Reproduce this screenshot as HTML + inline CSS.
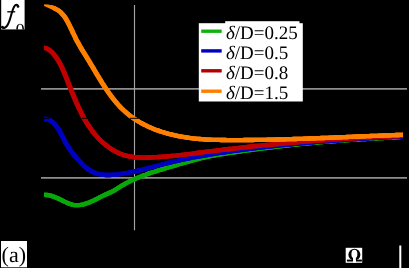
<!DOCTYPE html>
<html><head><meta charset="utf-8"><style>
html,body{margin:0;padding:0;background:#000;}
body{width:409px;height:268px;overflow:hidden;position:relative;font-family:"Liberation Serif",serif;color:#000;}
svg{position:absolute;left:0;top:0;}
.box{position:absolute;background:#fff;}
.t{position:absolute;white-space:nowrap;line-height:1;}
</style></head><body>
<svg width="409" height="268" viewBox="0 0 409 268" text-rendering="geometricPrecision" style="will-change:transform">
<rect x="0" y="0" width="409" height="268" fill="#000"/>
<g stroke="#8e8e8e" stroke-width="1.7" fill="none">
<line x1="41" y1="88.9" x2="407" y2="88.9"/>
<line x1="41" y1="177.9" x2="407" y2="177.9"/>
</g>
<line x1="134.5" y1="5" x2="134.5" y2="230.3" stroke="#a4a4a4" stroke-width="1.15"/>
<clipPath id="cp"><rect x="44" y="0" width="359" height="268"/></clipPath>
<g fill="none" stroke-width="4.3" stroke-linecap="butt" stroke-linejoin="round" clip-path="url(#cp)">
<g stroke="#08a808"><path d="M41.0,194.8L42.9,194.8L44.8,194.9L46.7,195.0L48.5,195.2L50.4,195.6L52.2,196.1L54.0,196.7L55.7,197.4L57.5,198.2L59.2,199.0L61.0,199.9L62.7,200.7L64.4,201.6L66.2,202.4L67.9,203.2L69.6,203.8L71.4,204.4L73.2,204.8L75.0,205.1L76.8,205.2L78.7,205.1L80.5,204.9L82.4,204.6L84.3,204.1L86.1,203.5L88.0,202.9L89.8,202.2L91.6,201.4L93.4,200.6L95.1,199.8L96.8,198.9L98.4,198.1L100.1,197.2L101.7,196.4L103.4,195.6L105.1,194.8L106.8,194.0L108.5,193.3L110.2,192.5L111.9,191.7L113.6,190.8L115.3,189.8L116.9,188.8L118.5,187.8L120.1,186.7L121.7,185.7L123.4,184.8L125.0,183.9L126.7,182.9L128.4,182.1L130.0,181.2L131.7,180.4L133.5,179.6L135.2,178.9L136.9,178.1L138.6,177.4L140.4,176.7L142.1,176.0L143.9,175.3L145.7,174.7L147.5,174.0L149.2,173.4L151.0,172.8L152.8,172.2L154.6,171.7L156.4,171.1L158.2,170.5L160.0,170.0L161.9,169.4L163.7,168.9L165.5,168.3L167.3,167.8L169.1,167.2L170.9,166.7L172.8,166.1L174.6,165.6L176.4,165.1L178.2,164.5L180.0,164.0L181.8,163.5L183.7,162.9L185.5,162.4L187.3,161.9L189.1,161.4L191.0,160.9L192.8,160.4L194.6,159.9L196.4,159.4L198.3,158.9L200.1,158.5L202.0,158.0L203.8,157.6L205.6,157.2L207.5,156.8L209.3,156.4L211.2,156.0L213.0,155.6L214.9,155.3L216.8,155.0L218.6,154.7L220.5,154.3L222.4,154.0L224.2,153.8L226.1,153.5L228.0,153.2L229.9,152.9L231.7,152.6L233.6,152.4L235.5,152.1L237.3,151.8L239.2,151.5L241.1,151.3L243.0,151.0L244.8,150.7L246.7,150.5L248.6,150.2L250.5,150.0L252.3,149.7L254.2,149.5L256.1,149.2L258.0,149.0L259.9,148.7L261.7,148.5L263.6,148.2L265.5,148.0L267.4,147.8L269.2,147.5L271.1,147.3L273.0,147.1L274.9,146.8L276.8,146.6L278.6,146.4L280.5,146.2L282.4,146.0L284.3,145.7L286.2,145.5L288.0,145.3L289.9,145.1L291.8,144.9L293.7,144.7L295.6,144.5L297.5,144.3L299.3,144.1L301.2,143.9L303.1,143.7L305.0,143.6L306.9,143.4L308.8,143.2L310.6,143.0L312.5,142.8L314.4,142.7L316.3,142.5L318.2,142.3L320.1,142.2L322.0,142.0L323.8,141.9L325.7,141.7L327.6,141.5L329.5,141.4L331.4,141.3L333.3,141.1L335.2,141.0L337.0,140.8L338.9,140.7L340.8,140.6L342.7,140.4L344.6,140.3L346.5,140.2L348.4,140.1L350.3,139.9L352.2,139.8L354.0,139.7L355.9,139.6L357.8,139.5L359.7,139.4L361.6,139.2L363.5,139.1L365.4,139.0L367.3,138.9L369.2,138.8L371.0,138.7L372.9,138.6L374.8,138.5L376.7,138.4L378.6,138.2L380.5,138.1L382.4,138.0L384.3,137.9L386.2,137.8L388.1,137.7L389.9,137.6L391.8,137.5L393.7,137.4L395.6,137.3L397.5,137.1L399.4,137.0L401.3,136.9L403.2,136.8L405.1,136.7L406.0,136.6"/><path transform="translate(-0.4,0)" d="M41.0,194.8L42.9,194.8L44.8,194.9L46.7,195.0L48.5,195.2L50.4,195.6L52.2,196.1L54.0,196.7L55.7,197.4L57.5,198.2L59.2,199.0L61.0,199.9L62.7,200.7L64.4,201.6L66.2,202.4L67.9,203.2L69.6,203.8L71.4,204.4L73.2,204.8L75.0,205.1L76.8,205.2L78.7,205.1L80.5,204.9L82.4,204.6L84.3,204.1L86.1,203.5L88.0,202.9L89.8,202.2L91.6,201.4L93.4,200.6L95.1,199.8L96.8,198.9L98.4,198.1L100.1,197.2L101.7,196.4L103.4,195.6L105.1,194.8L106.8,194.0L108.5,193.3L110.2,192.5L111.9,191.7L113.6,190.8L115.3,189.8L116.9,188.8L118.5,187.8L120.1,186.7L121.7,185.7L123.4,184.8L125.0,183.9L126.7,182.9L128.4,182.1L130.0,181.2L131.7,180.4L133.5,179.6L135.2,178.9L136.9,178.1L138.6,177.4L140.4,176.7L142.1,176.0L143.9,175.3L145.7,174.7L147.5,174.0L149.2,173.4L151.0,172.8L152.8,172.2L154.6,171.7L156.4,171.1L158.2,170.5L160.0,170.0L161.9,169.4L163.7,168.9L165.5,168.3L167.3,167.8L169.1,167.2L170.9,166.7L172.8,166.1L174.6,165.6L176.4,165.1L178.2,164.5L180.0,164.0L181.8,163.5L183.7,162.9L185.5,162.4L187.3,161.9L189.1,161.4L191.0,160.9L192.8,160.4L194.6,159.9L196.4,159.4L198.3,158.9L200.1,158.5L202.0,158.0L203.8,157.6L205.6,157.2L207.5,156.8L209.3,156.4L211.2,156.0L213.0,155.6L214.9,155.3L216.8,155.0L218.6,154.7L220.5,154.3L222.4,154.0L224.2,153.8L226.1,153.5L228.0,153.2L229.9,152.9L231.7,152.6L233.6,152.4L235.5,152.1L237.3,151.8L239.2,151.5L241.1,151.3L243.0,151.0L244.8,150.7L246.7,150.5L248.6,150.2L250.5,150.0L252.3,149.7L254.2,149.5L256.1,149.2L258.0,149.0L259.9,148.7L261.7,148.5L263.6,148.2L265.5,148.0L267.4,147.8L269.2,147.5L271.1,147.3L273.0,147.1L274.9,146.8L276.8,146.6L278.6,146.4L280.5,146.2L282.4,146.0L284.3,145.7L286.2,145.5L288.0,145.3L289.9,145.1L291.8,144.9L293.7,144.7L295.6,144.5L297.5,144.3L299.3,144.1L301.2,143.9L303.1,143.7L305.0,143.6L306.9,143.4L308.8,143.2L310.6,143.0L312.5,142.8L314.4,142.7L316.3,142.5L318.2,142.3L320.1,142.2L322.0,142.0L323.8,141.9L325.7,141.7L327.6,141.5L329.5,141.4L331.4,141.3L333.3,141.1L335.2,141.0L337.0,140.8L338.9,140.7L340.8,140.6L342.7,140.4L344.6,140.3L346.5,140.2L348.4,140.1L350.3,139.9L352.2,139.8L354.0,139.7L355.9,139.6L357.8,139.5L359.7,139.4L361.6,139.2L363.5,139.1L365.4,139.0L367.3,138.9L369.2,138.8L371.0,138.7L372.9,138.6L374.8,138.5L376.7,138.4L378.6,138.2L380.5,138.1L382.4,138.0L384.3,137.9L386.2,137.8L388.1,137.7L389.9,137.6L391.8,137.5L393.7,137.4L395.6,137.3L397.5,137.1L399.4,137.0L401.3,136.9L403.2,136.8L405.1,136.7L406.0,136.6"/><path transform="translate(0.4,0)" d="M41.0,194.8L42.9,194.8L44.8,194.9L46.7,195.0L48.5,195.2L50.4,195.6L52.2,196.1L54.0,196.7L55.7,197.4L57.5,198.2L59.2,199.0L61.0,199.9L62.7,200.7L64.4,201.6L66.2,202.4L67.9,203.2L69.6,203.8L71.4,204.4L73.2,204.8L75.0,205.1L76.8,205.2L78.7,205.1L80.5,204.9L82.4,204.6L84.3,204.1L86.1,203.5L88.0,202.9L89.8,202.2L91.6,201.4L93.4,200.6L95.1,199.8L96.8,198.9L98.4,198.1L100.1,197.2L101.7,196.4L103.4,195.6L105.1,194.8L106.8,194.0L108.5,193.3L110.2,192.5L111.9,191.7L113.6,190.8L115.3,189.8L116.9,188.8L118.5,187.8L120.1,186.7L121.7,185.7L123.4,184.8L125.0,183.9L126.7,182.9L128.4,182.1L130.0,181.2L131.7,180.4L133.5,179.6L135.2,178.9L136.9,178.1L138.6,177.4L140.4,176.7L142.1,176.0L143.9,175.3L145.7,174.7L147.5,174.0L149.2,173.4L151.0,172.8L152.8,172.2L154.6,171.7L156.4,171.1L158.2,170.5L160.0,170.0L161.9,169.4L163.7,168.9L165.5,168.3L167.3,167.8L169.1,167.2L170.9,166.7L172.8,166.1L174.6,165.6L176.4,165.1L178.2,164.5L180.0,164.0L181.8,163.5L183.7,162.9L185.5,162.4L187.3,161.9L189.1,161.4L191.0,160.9L192.8,160.4L194.6,159.9L196.4,159.4L198.3,158.9L200.1,158.5L202.0,158.0L203.8,157.6L205.6,157.2L207.5,156.8L209.3,156.4L211.2,156.0L213.0,155.6L214.9,155.3L216.8,155.0L218.6,154.7L220.5,154.3L222.4,154.0L224.2,153.8L226.1,153.5L228.0,153.2L229.9,152.9L231.7,152.6L233.6,152.4L235.5,152.1L237.3,151.8L239.2,151.5L241.1,151.3L243.0,151.0L244.8,150.7L246.7,150.5L248.6,150.2L250.5,150.0L252.3,149.7L254.2,149.5L256.1,149.2L258.0,149.0L259.9,148.7L261.7,148.5L263.6,148.2L265.5,148.0L267.4,147.8L269.2,147.5L271.1,147.3L273.0,147.1L274.9,146.8L276.8,146.6L278.6,146.4L280.5,146.2L282.4,146.0L284.3,145.7L286.2,145.5L288.0,145.3L289.9,145.1L291.8,144.9L293.7,144.7L295.6,144.5L297.5,144.3L299.3,144.1L301.2,143.9L303.1,143.7L305.0,143.6L306.9,143.4L308.8,143.2L310.6,143.0L312.5,142.8L314.4,142.7L316.3,142.5L318.2,142.3L320.1,142.2L322.0,142.0L323.8,141.9L325.7,141.7L327.6,141.5L329.5,141.4L331.4,141.3L333.3,141.1L335.2,141.0L337.0,140.8L338.9,140.7L340.8,140.6L342.7,140.4L344.6,140.3L346.5,140.2L348.4,140.1L350.3,139.9L352.2,139.8L354.0,139.7L355.9,139.6L357.8,139.5L359.7,139.4L361.6,139.2L363.5,139.1L365.4,139.0L367.3,138.9L369.2,138.8L371.0,138.7L372.9,138.6L374.8,138.5L376.7,138.4L378.6,138.2L380.5,138.1L382.4,138.0L384.3,137.9L386.2,137.8L388.1,137.7L389.9,137.6L391.8,137.5L393.7,137.4L395.6,137.3L397.5,137.1L399.4,137.0L401.3,136.9L403.2,136.8L405.1,136.7L406.0,136.6"/></g>
<g stroke="#0000c0"><path d="M41.0,118.9L43.0,118.8L45.0,118.8L47.0,119.1L48.8,119.7L50.5,120.5L52.1,121.7L53.6,123.0L54.9,124.4L56.2,126.0L57.4,127.6L58.5,129.2L59.5,131.0L60.5,132.7L61.4,134.5L62.3,136.3L63.2,138.1L64.1,139.8L65.0,141.6L66.0,143.3L67.0,145.0L68.0,146.6L69.0,148.2L70.1,149.8L71.2,151.4L72.4,152.9L73.6,154.4L74.8,155.9L76.1,157.4L77.4,158.9L78.8,160.4L80.2,161.9L81.6,163.4L83.1,164.9L84.6,166.4L86.2,167.7L87.8,169.0L89.5,170.2L91.2,171.2L92.9,172.0L94.7,172.8L96.5,173.4L98.3,173.9L100.2,174.3L102.1,174.6L104.0,174.9L105.9,175.0L107.9,175.0L109.8,175.0L111.8,174.9L113.7,174.8L115.7,174.6L117.7,174.4L119.6,174.1L121.6,173.8L123.5,173.5L125.5,173.2L127.4,172.9L129.4,172.5L131.3,172.1L133.3,171.7L135.2,171.3L137.1,170.9L139.1,170.4L141.0,170.0L142.9,169.5L144.8,169.0L146.7,168.5L148.7,168.0L150.6,167.5L152.5,167.0L154.4,166.5L156.3,166.0L158.2,165.5L160.1,165.0L162.0,164.5L164.0,164.0L165.9,163.5L167.8,163.1L169.7,162.6L171.6,162.1L173.6,161.7L175.5,161.2L177.4,160.8L179.3,160.3L181.3,159.9L183.2,159.5L185.1,159.1L187.1,158.7L189.0,158.3L190.9,157.9L192.9,157.5L194.8,157.2L196.8,156.8L198.7,156.5L200.6,156.1L202.6,155.8L204.5,155.4L206.5,155.1L208.4,154.8L210.4,154.4L212.3,154.1L214.3,153.8L216.2,153.5L218.2,153.2L220.1,152.9L222.1,152.6L224.0,152.3L226.0,152.0L228.0,151.7L229.9,151.5L231.9,151.2L233.8,150.9L235.8,150.6L237.7,150.4L239.7,150.1L241.7,149.9L243.6,149.6L245.6,149.3L247.5,149.1L249.5,148.8L251.5,148.6L253.4,148.4L255.4,148.1L257.3,147.9L259.3,147.6L261.3,147.4L263.2,147.2L265.2,147.0L267.1,146.7L269.1,146.5L271.1,146.3L273.0,146.1L275.0,145.9L277.0,145.7L278.9,145.4L280.9,145.2L282.9,145.0L284.8,144.8L286.8,144.6L288.8,144.4L290.7,144.3L292.7,144.1L294.7,143.9L296.6,143.7L298.6,143.5L300.6,143.3L302.5,143.1L304.5,143.0L306.5,142.8L308.4,142.6L310.4,142.4L312.4,142.3L314.3,142.1L316.3,141.9L318.3,141.8L320.2,141.6L322.2,141.5L324.2,141.3L326.1,141.2L328.1,141.0L330.1,140.9L332.1,140.7L334.0,140.6L336.0,140.4L338.0,140.3L339.9,140.1L341.9,140.0L343.9,139.8L345.9,139.7L347.8,139.6L349.8,139.4L351.8,139.3L353.7,139.2L355.7,139.1L357.7,138.9L359.7,138.8L361.6,138.7L363.6,138.6L365.6,138.4L367.5,138.3L369.5,138.2L371.5,138.1L373.5,138.0L375.4,137.8L377.4,137.7L379.4,137.6L381.3,137.5L383.3,137.4L385.3,137.3L387.3,137.2L389.2,137.1L391.2,137.0L393.2,136.9L395.2,136.8L397.1,136.7L399.1,136.6L401.1,136.5L403.0,136.4L405.0,136.3L406.0,136.2"/><path transform="translate(-0.4,0)" d="M41.0,118.9L43.0,118.8L45.0,118.8L47.0,119.1L48.8,119.7L50.5,120.5L52.1,121.7L53.6,123.0L54.9,124.4L56.2,126.0L57.4,127.6L58.5,129.2L59.5,131.0L60.5,132.7L61.4,134.5L62.3,136.3L63.2,138.1L64.1,139.8L65.0,141.6L66.0,143.3L67.0,145.0L68.0,146.6L69.0,148.2L70.1,149.8L71.2,151.4L72.4,152.9L73.6,154.4L74.8,155.9L76.1,157.4L77.4,158.9L78.8,160.4L80.2,161.9L81.6,163.4L83.1,164.9L84.6,166.4L86.2,167.7L87.8,169.0L89.5,170.2L91.2,171.2L92.9,172.0L94.7,172.8L96.5,173.4L98.3,173.9L100.2,174.3L102.1,174.6L104.0,174.9L105.9,175.0L107.9,175.0L109.8,175.0L111.8,174.9L113.7,174.8L115.7,174.6L117.7,174.4L119.6,174.1L121.6,173.8L123.5,173.5L125.5,173.2L127.4,172.9L129.4,172.5L131.3,172.1L133.3,171.7L135.2,171.3L137.1,170.9L139.1,170.4L141.0,170.0L142.9,169.5L144.8,169.0L146.7,168.5L148.7,168.0L150.6,167.5L152.5,167.0L154.4,166.5L156.3,166.0L158.2,165.5L160.1,165.0L162.0,164.5L164.0,164.0L165.9,163.5L167.8,163.1L169.7,162.6L171.6,162.1L173.6,161.7L175.5,161.2L177.4,160.8L179.3,160.3L181.3,159.9L183.2,159.5L185.1,159.1L187.1,158.7L189.0,158.3L190.9,157.9L192.9,157.5L194.8,157.2L196.8,156.8L198.7,156.5L200.6,156.1L202.6,155.8L204.5,155.4L206.5,155.1L208.4,154.8L210.4,154.4L212.3,154.1L214.3,153.8L216.2,153.5L218.2,153.2L220.1,152.9L222.1,152.6L224.0,152.3L226.0,152.0L228.0,151.7L229.9,151.5L231.9,151.2L233.8,150.9L235.8,150.6L237.7,150.4L239.7,150.1L241.7,149.9L243.6,149.6L245.6,149.3L247.5,149.1L249.5,148.8L251.5,148.6L253.4,148.4L255.4,148.1L257.3,147.9L259.3,147.6L261.3,147.4L263.2,147.2L265.2,147.0L267.1,146.7L269.1,146.5L271.1,146.3L273.0,146.1L275.0,145.9L277.0,145.7L278.9,145.4L280.9,145.2L282.9,145.0L284.8,144.8L286.8,144.6L288.8,144.4L290.7,144.3L292.7,144.1L294.7,143.9L296.6,143.7L298.6,143.5L300.6,143.3L302.5,143.1L304.5,143.0L306.5,142.8L308.4,142.6L310.4,142.4L312.4,142.3L314.3,142.1L316.3,141.9L318.3,141.8L320.2,141.6L322.2,141.5L324.2,141.3L326.1,141.2L328.1,141.0L330.1,140.9L332.1,140.7L334.0,140.6L336.0,140.4L338.0,140.3L339.9,140.1L341.9,140.0L343.9,139.8L345.9,139.7L347.8,139.6L349.8,139.4L351.8,139.3L353.7,139.2L355.7,139.1L357.7,138.9L359.7,138.8L361.6,138.7L363.6,138.6L365.6,138.4L367.5,138.3L369.5,138.2L371.5,138.1L373.5,138.0L375.4,137.8L377.4,137.7L379.4,137.6L381.3,137.5L383.3,137.4L385.3,137.3L387.3,137.2L389.2,137.1L391.2,137.0L393.2,136.9L395.2,136.8L397.1,136.7L399.1,136.6L401.1,136.5L403.0,136.4L405.0,136.3L406.0,136.2"/><path transform="translate(0.4,0)" d="M41.0,118.9L43.0,118.8L45.0,118.8L47.0,119.1L48.8,119.7L50.5,120.5L52.1,121.7L53.6,123.0L54.9,124.4L56.2,126.0L57.4,127.6L58.5,129.2L59.5,131.0L60.5,132.7L61.4,134.5L62.3,136.3L63.2,138.1L64.1,139.8L65.0,141.6L66.0,143.3L67.0,145.0L68.0,146.6L69.0,148.2L70.1,149.8L71.2,151.4L72.4,152.9L73.6,154.4L74.8,155.9L76.1,157.4L77.4,158.9L78.8,160.4L80.2,161.9L81.6,163.4L83.1,164.9L84.6,166.4L86.2,167.7L87.8,169.0L89.5,170.2L91.2,171.2L92.9,172.0L94.7,172.8L96.5,173.4L98.3,173.9L100.2,174.3L102.1,174.6L104.0,174.9L105.9,175.0L107.9,175.0L109.8,175.0L111.8,174.9L113.7,174.8L115.7,174.6L117.7,174.4L119.6,174.1L121.6,173.8L123.5,173.5L125.5,173.2L127.4,172.9L129.4,172.5L131.3,172.1L133.3,171.7L135.2,171.3L137.1,170.9L139.1,170.4L141.0,170.0L142.9,169.5L144.8,169.0L146.7,168.5L148.7,168.0L150.6,167.5L152.5,167.0L154.4,166.5L156.3,166.0L158.2,165.5L160.1,165.0L162.0,164.5L164.0,164.0L165.9,163.5L167.8,163.1L169.7,162.6L171.6,162.1L173.6,161.7L175.5,161.2L177.4,160.8L179.3,160.3L181.3,159.9L183.2,159.5L185.1,159.1L187.1,158.7L189.0,158.3L190.9,157.9L192.9,157.5L194.8,157.2L196.8,156.8L198.7,156.5L200.6,156.1L202.6,155.8L204.5,155.4L206.5,155.1L208.4,154.8L210.4,154.4L212.3,154.1L214.3,153.8L216.2,153.5L218.2,153.2L220.1,152.9L222.1,152.6L224.0,152.3L226.0,152.0L228.0,151.7L229.9,151.5L231.9,151.2L233.8,150.9L235.8,150.6L237.7,150.4L239.7,150.1L241.7,149.9L243.6,149.6L245.6,149.3L247.5,149.1L249.5,148.8L251.5,148.6L253.4,148.4L255.4,148.1L257.3,147.9L259.3,147.6L261.3,147.4L263.2,147.2L265.2,147.0L267.1,146.7L269.1,146.5L271.1,146.3L273.0,146.1L275.0,145.9L277.0,145.7L278.9,145.4L280.9,145.2L282.9,145.0L284.8,144.8L286.8,144.6L288.8,144.4L290.7,144.3L292.7,144.1L294.7,143.9L296.6,143.7L298.6,143.5L300.6,143.3L302.5,143.1L304.5,143.0L306.5,142.8L308.4,142.6L310.4,142.4L312.4,142.3L314.3,142.1L316.3,141.9L318.3,141.8L320.2,141.6L322.2,141.5L324.2,141.3L326.1,141.2L328.1,141.0L330.1,140.9L332.1,140.7L334.0,140.6L336.0,140.4L338.0,140.3L339.9,140.1L341.9,140.0L343.9,139.8L345.9,139.7L347.8,139.6L349.8,139.4L351.8,139.3L353.7,139.2L355.7,139.1L357.7,138.9L359.7,138.8L361.6,138.7L363.6,138.6L365.6,138.4L367.5,138.3L369.5,138.2L371.5,138.1L373.5,138.0L375.4,137.8L377.4,137.7L379.4,137.6L381.3,137.5L383.3,137.4L385.3,137.3L387.3,137.2L389.2,137.1L391.2,137.0L393.2,136.9L395.2,136.8L397.1,136.7L399.1,136.6L401.1,136.5L403.0,136.4L405.0,136.3L406.0,136.2"/></g>
<g stroke="#c00000"><path d="M41.0,47.8L43.2,47.6L45.3,48.0L47.3,48.7L49.0,49.8L50.7,51.1L52.2,52.5L53.6,54.1L55.0,55.7L56.2,57.4L57.4,59.2L58.5,60.9L59.5,62.8L60.5,64.6L61.5,66.5L62.4,68.4L63.2,70.4L64.1,72.4L64.9,74.3L65.7,76.3L66.5,78.3L67.3,80.3L68.1,82.4L68.9,84.4L69.7,86.4L70.5,88.4L71.3,90.4L72.1,92.4L73.0,94.4L73.8,96.4L74.6,98.4L75.5,100.4L76.3,102.4L77.2,104.4L78.1,106.3L79.0,108.3L79.9,110.2L80.9,112.1L81.8,114.0L82.8,115.9L83.8,117.8L84.9,119.6L85.9,121.5L87.0,123.3L88.1,125.0L89.3,126.8L90.5,128.5L91.7,130.2L93.0,131.9L94.3,133.5L95.6,135.1L97.0,136.7L98.4,138.2L99.9,139.7L101.4,141.2L102.9,142.6L104.5,144.0L106.2,145.3L107.9,146.6L109.6,147.9L111.4,149.1L113.2,150.2L115.1,151.3L117.0,152.2L118.9,153.2L120.9,154.0L122.9,154.7L124.9,155.4L127.0,155.9L129.0,156.4L131.1,156.7L133.2,157.0L135.3,157.3L137.4,157.4L139.6,157.5L141.7,157.6L143.9,157.6L146.0,157.6L148.2,157.5L150.3,157.5L152.5,157.4L154.6,157.3L156.7,157.2L158.9,157.0L161.0,156.9L163.2,156.7L165.3,156.6L167.4,156.4L169.5,156.2L171.7,156.0L173.8,155.8L175.9,155.6L178.0,155.3L180.1,155.1L182.3,154.8L184.4,154.6L186.5,154.3L188.6,154.1L190.7,153.8L192.8,153.6L194.9,153.3L197.1,153.0L199.2,152.7L201.3,152.5L203.4,152.2L205.5,151.9L207.6,151.6L209.7,151.4L211.8,151.1L213.9,150.8L216.1,150.6L218.2,150.3L220.3,150.1L222.4,149.8L224.5,149.5L226.6,149.3L228.7,149.0L230.8,148.8L233.0,148.6L235.1,148.3L237.2,148.1L239.3,147.8L241.4,147.6L243.5,147.4L245.7,147.1L247.8,146.9L249.9,146.7L252.0,146.5L254.1,146.2L256.2,146.0L258.4,145.8L260.5,145.6L262.6,145.4L264.7,145.2L266.8,145.0L269.0,144.8L271.1,144.6L273.2,144.4L275.3,144.2L277.4,144.0L279.6,143.8L281.7,143.6L283.8,143.4L285.9,143.2L288.0,143.0L290.2,142.8L292.3,142.6L294.4,142.5L296.5,142.3L298.7,142.1L300.8,141.9L302.9,141.8L305.0,141.6L307.1,141.4L309.3,141.3L311.4,141.1L313.5,140.9L315.6,140.8L317.8,140.6L319.9,140.5L322.0,140.3L324.1,140.2L326.3,140.0L328.4,139.9L330.5,139.7L332.6,139.6L334.8,139.4L336.9,139.3L339.0,139.1L341.1,139.0L343.3,138.9L345.4,138.7L347.5,138.6L349.6,138.5L351.8,138.3L353.9,138.2L356.0,138.1L358.2,138.0L360.3,137.9L362.4,137.7L364.5,137.6L366.7,137.5L368.8,137.4L370.9,137.3L373.0,137.2L375.2,137.1L377.3,137.0L379.4,136.8L381.5,136.7L383.7,136.6L385.8,136.5L387.9,136.4L390.0,136.3L392.2,136.2L394.3,136.2L396.4,136.1L398.6,136.0L400.7,135.9L402.8,135.8L404.9,135.7L406.0,135.7"/><path transform="translate(-0.4,0)" d="M41.0,47.8L43.2,47.6L45.3,48.0L47.3,48.7L49.0,49.8L50.7,51.1L52.2,52.5L53.6,54.1L55.0,55.7L56.2,57.4L57.4,59.2L58.5,60.9L59.5,62.8L60.5,64.6L61.5,66.5L62.4,68.4L63.2,70.4L64.1,72.4L64.9,74.3L65.7,76.3L66.5,78.3L67.3,80.3L68.1,82.4L68.9,84.4L69.7,86.4L70.5,88.4L71.3,90.4L72.1,92.4L73.0,94.4L73.8,96.4L74.6,98.4L75.5,100.4L76.3,102.4L77.2,104.4L78.1,106.3L79.0,108.3L79.9,110.2L80.9,112.1L81.8,114.0L82.8,115.9L83.8,117.8L84.9,119.6L85.9,121.5L87.0,123.3L88.1,125.0L89.3,126.8L90.5,128.5L91.7,130.2L93.0,131.9L94.3,133.5L95.6,135.1L97.0,136.7L98.4,138.2L99.9,139.7L101.4,141.2L102.9,142.6L104.5,144.0L106.2,145.3L107.9,146.6L109.6,147.9L111.4,149.1L113.2,150.2L115.1,151.3L117.0,152.2L118.9,153.2L120.9,154.0L122.9,154.7L124.9,155.4L127.0,155.9L129.0,156.4L131.1,156.7L133.2,157.0L135.3,157.3L137.4,157.4L139.6,157.5L141.7,157.6L143.9,157.6L146.0,157.6L148.2,157.5L150.3,157.5L152.5,157.4L154.6,157.3L156.7,157.2L158.9,157.0L161.0,156.9L163.2,156.7L165.3,156.6L167.4,156.4L169.5,156.2L171.7,156.0L173.8,155.8L175.9,155.6L178.0,155.3L180.1,155.1L182.3,154.8L184.4,154.6L186.5,154.3L188.6,154.1L190.7,153.8L192.8,153.6L194.9,153.3L197.1,153.0L199.2,152.7L201.3,152.5L203.4,152.2L205.5,151.9L207.6,151.6L209.7,151.4L211.8,151.1L213.9,150.8L216.1,150.6L218.2,150.3L220.3,150.1L222.4,149.8L224.5,149.5L226.6,149.3L228.7,149.0L230.8,148.8L233.0,148.6L235.1,148.3L237.2,148.1L239.3,147.8L241.4,147.6L243.5,147.4L245.7,147.1L247.8,146.9L249.9,146.7L252.0,146.5L254.1,146.2L256.2,146.0L258.4,145.8L260.5,145.6L262.6,145.4L264.7,145.2L266.8,145.0L269.0,144.8L271.1,144.6L273.2,144.4L275.3,144.2L277.4,144.0L279.6,143.8L281.7,143.6L283.8,143.4L285.9,143.2L288.0,143.0L290.2,142.8L292.3,142.6L294.4,142.5L296.5,142.3L298.7,142.1L300.8,141.9L302.9,141.8L305.0,141.6L307.1,141.4L309.3,141.3L311.4,141.1L313.5,140.9L315.6,140.8L317.8,140.6L319.9,140.5L322.0,140.3L324.1,140.2L326.3,140.0L328.4,139.9L330.5,139.7L332.6,139.6L334.8,139.4L336.9,139.3L339.0,139.1L341.1,139.0L343.3,138.9L345.4,138.7L347.5,138.6L349.6,138.5L351.8,138.3L353.9,138.2L356.0,138.1L358.2,138.0L360.3,137.9L362.4,137.7L364.5,137.6L366.7,137.5L368.8,137.4L370.9,137.3L373.0,137.2L375.2,137.1L377.3,137.0L379.4,136.8L381.5,136.7L383.7,136.6L385.8,136.5L387.9,136.4L390.0,136.3L392.2,136.2L394.3,136.2L396.4,136.1L398.6,136.0L400.7,135.9L402.8,135.8L404.9,135.7L406.0,135.7"/><path transform="translate(0.4,0)" d="M41.0,47.8L43.2,47.6L45.3,48.0L47.3,48.7L49.0,49.8L50.7,51.1L52.2,52.5L53.6,54.1L55.0,55.7L56.2,57.4L57.4,59.2L58.5,60.9L59.5,62.8L60.5,64.6L61.5,66.5L62.4,68.4L63.2,70.4L64.1,72.4L64.9,74.3L65.7,76.3L66.5,78.3L67.3,80.3L68.1,82.4L68.9,84.4L69.7,86.4L70.5,88.4L71.3,90.4L72.1,92.4L73.0,94.4L73.8,96.4L74.6,98.4L75.5,100.4L76.3,102.4L77.2,104.4L78.1,106.3L79.0,108.3L79.9,110.2L80.9,112.1L81.8,114.0L82.8,115.9L83.8,117.8L84.9,119.6L85.9,121.5L87.0,123.3L88.1,125.0L89.3,126.8L90.5,128.5L91.7,130.2L93.0,131.9L94.3,133.5L95.6,135.1L97.0,136.7L98.4,138.2L99.9,139.7L101.4,141.2L102.9,142.6L104.5,144.0L106.2,145.3L107.9,146.6L109.6,147.9L111.4,149.1L113.2,150.2L115.1,151.3L117.0,152.2L118.9,153.2L120.9,154.0L122.9,154.7L124.9,155.4L127.0,155.9L129.0,156.4L131.1,156.7L133.2,157.0L135.3,157.3L137.4,157.4L139.6,157.5L141.7,157.6L143.9,157.6L146.0,157.6L148.2,157.5L150.3,157.5L152.5,157.4L154.6,157.3L156.7,157.2L158.9,157.0L161.0,156.9L163.2,156.7L165.3,156.6L167.4,156.4L169.5,156.2L171.7,156.0L173.8,155.8L175.9,155.6L178.0,155.3L180.1,155.1L182.3,154.8L184.4,154.6L186.5,154.3L188.6,154.1L190.7,153.8L192.8,153.6L194.9,153.3L197.1,153.0L199.2,152.7L201.3,152.5L203.4,152.2L205.5,151.9L207.6,151.6L209.7,151.4L211.8,151.1L213.9,150.8L216.1,150.6L218.2,150.3L220.3,150.1L222.4,149.8L224.5,149.5L226.6,149.3L228.7,149.0L230.8,148.8L233.0,148.6L235.1,148.3L237.2,148.1L239.3,147.8L241.4,147.6L243.5,147.4L245.7,147.1L247.8,146.9L249.9,146.7L252.0,146.5L254.1,146.2L256.2,146.0L258.4,145.8L260.5,145.6L262.6,145.4L264.7,145.2L266.8,145.0L269.0,144.8L271.1,144.6L273.2,144.4L275.3,144.2L277.4,144.0L279.6,143.8L281.7,143.6L283.8,143.4L285.9,143.2L288.0,143.0L290.2,142.8L292.3,142.6L294.4,142.5L296.5,142.3L298.7,142.1L300.8,141.9L302.9,141.8L305.0,141.6L307.1,141.4L309.3,141.3L311.4,141.1L313.5,140.9L315.6,140.8L317.8,140.6L319.9,140.5L322.0,140.3L324.1,140.2L326.3,140.0L328.4,139.9L330.5,139.7L332.6,139.6L334.8,139.4L336.9,139.3L339.0,139.1L341.1,139.0L343.3,138.9L345.4,138.7L347.5,138.6L349.6,138.5L351.8,138.3L353.9,138.2L356.0,138.1L358.2,138.0L360.3,137.9L362.4,137.7L364.5,137.6L366.7,137.5L368.8,137.4L370.9,137.3L373.0,137.2L375.2,137.1L377.3,137.0L379.4,136.8L381.5,136.7L383.7,136.6L385.8,136.5L387.9,136.4L390.0,136.3L392.2,136.2L394.3,136.2L396.4,136.1L398.6,136.0L400.7,135.9L402.8,135.8L404.9,135.7L406.0,135.7"/></g>
<g stroke="#ff8000"><path d="M40.9,7.2L43.2,6.9L45.4,6.8L47.6,6.8L49.7,7.1L51.7,7.5L53.7,8.1L55.6,8.9L57.4,9.8L59.0,10.9L60.6,12.2L62.0,13.7L63.4,15.2L64.7,16.9L65.9,18.7L66.4,19.7L67.0,20.6L67.5,21.6L68.1,22.6L68.6,23.6L69.1,24.6L69.6,25.6L70.1,26.7L70.6,27.7L71.1,28.7L71.6,29.8L72.1,30.8L72.6,31.9L73.0,32.9L73.5,33.9L74.0,34.9L75.0,36.9L75.9,38.9L76.9,40.8L78.0,42.7L79.0,44.5L80.0,46.3L81.1,48.1L82.1,49.9L83.2,51.7L84.3,53.4L85.4,55.2L86.5,56.9L87.5,58.7L88.6,60.4L89.7,62.2L90.8,64.1L91.9,65.9L93.0,67.7L94.1,69.6L95.2,71.4L96.3,73.3L97.4,75.2L98.0,76.1L98.6,77.0L99.1,78.0L99.7,78.9L100.3,79.9L100.8,80.8L101.4,81.7L102.0,82.7L102.6,83.6L103.2,84.5L103.8,85.4L104.4,86.4L105.0,87.3L105.6,88.2L106.2,89.1L106.8,90.0L107.4,90.9L108.1,91.8L108.7,92.7L109.3,93.6L110.0,94.5L110.6,95.4L111.3,96.3L111.9,97.1L112.6,98.0L113.3,98.9L113.9,99.7L114.6,100.5L115.3,101.4L116.0,102.2L116.7,103.0L117.4,103.8L118.1,104.6L118.8,105.4L119.6,106.2L120.3,107.0L121.0,107.8L121.8,108.5L122.6,109.3L123.3,110.0L124.9,111.4L126.5,112.8L128.1,114.2L129.7,115.5L131.4,116.8L133.1,118.0L134.9,119.2L136.7,120.3L138.4,121.4L140.3,122.5L142.1,123.5L144.0,124.5L145.9,125.4L147.8,126.4L149.7,127.2L151.6,128.1L153.6,128.9L155.6,129.7L157.6,130.4L159.6,131.1L161.6,131.8L163.7,132.4L165.7,133.0L167.8,133.6L169.9,134.2L172.0,134.7L174.1,135.2L176.2,135.6L178.3,136.1L180.4,136.5L182.5,136.8L184.7,137.2L186.8,137.5L188.9,137.8L191.1,138.1L193.2,138.4L195.3,138.6L197.5,138.8L199.6,139.0L201.7,139.2L203.9,139.3L206.0,139.5L208.1,139.6L210.3,139.7L212.4,139.8L214.5,139.8L216.7,139.9L218.8,139.9L220.9,140.0L223.1,140.0L225.2,140.0L227.3,140.1L229.5,140.1L231.6,140.1L233.7,140.1L235.9,140.1L238.0,140.1L240.1,140.1L242.3,140.1L244.4,140.0L246.5,140.0L248.7,140.0L250.8,140.0L253.0,140.0L255.1,139.9L257.2,139.9L259.4,139.9L261.5,139.8L263.7,139.8L265.8,139.8L268.0,139.7L270.1,139.7L272.2,139.6L274.4,139.6L276.5,139.5L278.7,139.5L280.8,139.4L283.0,139.4L285.1,139.3L287.3,139.2L289.4,139.2L291.5,139.1L293.7,139.0L295.8,139.0L298.0,138.9L300.1,138.8L302.3,138.8L304.4,138.7L306.5,138.6L308.7,138.5L310.8,138.4L313.0,138.4L315.1,138.3L317.2,138.2L319.4,138.1L321.5,138.0L323.7,138.0L325.8,137.9L327.9,137.8L330.1,137.7L332.2,137.6L334.3,137.5L336.5,137.4L338.6,137.3L340.8,137.3L342.9,137.2L345.0,137.1L347.2,137.0L349.3,136.9L351.4,136.8L353.6,136.7L355.7,136.6L357.9,136.5L360.0,136.5L362.1,136.4L364.3,136.3L366.4,136.2L368.5,136.1L370.7,136.0L372.8,135.9L375.0,135.8L377.1,135.8L379.2,135.7L381.4,135.6L383.5,135.5L385.7,135.4L387.8,135.3L389.9,135.3L392.1,135.2L394.2,135.1L396.4,135.0L398.5,135.0L400.6,134.9L402.8,134.8L404.9,134.7L406.0,134.7"/><path transform="translate(-0.4,0)" d="M40.9,7.2L43.2,6.9L45.4,6.8L47.6,6.8L49.7,7.1L51.7,7.5L53.7,8.1L55.6,8.9L57.4,9.8L59.0,10.9L60.6,12.2L62.0,13.7L63.4,15.2L64.7,16.9L65.9,18.7L66.4,19.7L67.0,20.6L67.5,21.6L68.1,22.6L68.6,23.6L69.1,24.6L69.6,25.6L70.1,26.7L70.6,27.7L71.1,28.7L71.6,29.8L72.1,30.8L72.6,31.9L73.0,32.9L73.5,33.9L74.0,34.9L75.0,36.9L75.9,38.9L76.9,40.8L78.0,42.7L79.0,44.5L80.0,46.3L81.1,48.1L82.1,49.9L83.2,51.7L84.3,53.4L85.4,55.2L86.5,56.9L87.5,58.7L88.6,60.4L89.7,62.2L90.8,64.1L91.9,65.9L93.0,67.7L94.1,69.6L95.2,71.4L96.3,73.3L97.4,75.2L98.0,76.1L98.6,77.0L99.1,78.0L99.7,78.9L100.3,79.9L100.8,80.8L101.4,81.7L102.0,82.7L102.6,83.6L103.2,84.5L103.8,85.4L104.4,86.4L105.0,87.3L105.6,88.2L106.2,89.1L106.8,90.0L107.4,90.9L108.1,91.8L108.7,92.7L109.3,93.6L110.0,94.5L110.6,95.4L111.3,96.3L111.9,97.1L112.6,98.0L113.3,98.9L113.9,99.7L114.6,100.5L115.3,101.4L116.0,102.2L116.7,103.0L117.4,103.8L118.1,104.6L118.8,105.4L119.6,106.2L120.3,107.0L121.0,107.8L121.8,108.5L122.6,109.3L123.3,110.0L124.9,111.4L126.5,112.8L128.1,114.2L129.7,115.5L131.4,116.8L133.1,118.0L134.9,119.2L136.7,120.3L138.4,121.4L140.3,122.5L142.1,123.5L144.0,124.5L145.9,125.4L147.8,126.4L149.7,127.2L151.6,128.1L153.6,128.9L155.6,129.7L157.6,130.4L159.6,131.1L161.6,131.8L163.7,132.4L165.7,133.0L167.8,133.6L169.9,134.2L172.0,134.7L174.1,135.2L176.2,135.6L178.3,136.1L180.4,136.5L182.5,136.8L184.7,137.2L186.8,137.5L188.9,137.8L191.1,138.1L193.2,138.4L195.3,138.6L197.5,138.8L199.6,139.0L201.7,139.2L203.9,139.3L206.0,139.5L208.1,139.6L210.3,139.7L212.4,139.8L214.5,139.8L216.7,139.9L218.8,139.9L220.9,140.0L223.1,140.0L225.2,140.0L227.3,140.1L229.5,140.1L231.6,140.1L233.7,140.1L235.9,140.1L238.0,140.1L240.1,140.1L242.3,140.1L244.4,140.0L246.5,140.0L248.7,140.0L250.8,140.0L253.0,140.0L255.1,139.9L257.2,139.9L259.4,139.9L261.5,139.8L263.7,139.8L265.8,139.8L268.0,139.7L270.1,139.7L272.2,139.6L274.4,139.6L276.5,139.5L278.7,139.5L280.8,139.4L283.0,139.4L285.1,139.3L287.3,139.2L289.4,139.2L291.5,139.1L293.7,139.0L295.8,139.0L298.0,138.9L300.1,138.8L302.3,138.8L304.4,138.7L306.5,138.6L308.7,138.5L310.8,138.4L313.0,138.4L315.1,138.3L317.2,138.2L319.4,138.1L321.5,138.0L323.7,138.0L325.8,137.9L327.9,137.8L330.1,137.7L332.2,137.6L334.3,137.5L336.5,137.4L338.6,137.3L340.8,137.3L342.9,137.2L345.0,137.1L347.2,137.0L349.3,136.9L351.4,136.8L353.6,136.7L355.7,136.6L357.9,136.5L360.0,136.5L362.1,136.4L364.3,136.3L366.4,136.2L368.5,136.1L370.7,136.0L372.8,135.9L375.0,135.8L377.1,135.8L379.2,135.7L381.4,135.6L383.5,135.5L385.7,135.4L387.8,135.3L389.9,135.3L392.1,135.2L394.2,135.1L396.4,135.0L398.5,135.0L400.6,134.9L402.8,134.8L404.9,134.7L406.0,134.7"/><path transform="translate(0.4,0)" d="M40.9,7.2L43.2,6.9L45.4,6.8L47.6,6.8L49.7,7.1L51.7,7.5L53.7,8.1L55.6,8.9L57.4,9.8L59.0,10.9L60.6,12.2L62.0,13.7L63.4,15.2L64.7,16.9L65.9,18.7L66.4,19.7L67.0,20.6L67.5,21.6L68.1,22.6L68.6,23.6L69.1,24.6L69.6,25.6L70.1,26.7L70.6,27.7L71.1,28.7L71.6,29.8L72.1,30.8L72.6,31.9L73.0,32.9L73.5,33.9L74.0,34.9L75.0,36.9L75.9,38.9L76.9,40.8L78.0,42.7L79.0,44.5L80.0,46.3L81.1,48.1L82.1,49.9L83.2,51.7L84.3,53.4L85.4,55.2L86.5,56.9L87.5,58.7L88.6,60.4L89.7,62.2L90.8,64.1L91.9,65.9L93.0,67.7L94.1,69.6L95.2,71.4L96.3,73.3L97.4,75.2L98.0,76.1L98.6,77.0L99.1,78.0L99.7,78.9L100.3,79.9L100.8,80.8L101.4,81.7L102.0,82.7L102.6,83.6L103.2,84.5L103.8,85.4L104.4,86.4L105.0,87.3L105.6,88.2L106.2,89.1L106.8,90.0L107.4,90.9L108.1,91.8L108.7,92.7L109.3,93.6L110.0,94.5L110.6,95.4L111.3,96.3L111.9,97.1L112.6,98.0L113.3,98.9L113.9,99.7L114.6,100.5L115.3,101.4L116.0,102.2L116.7,103.0L117.4,103.8L118.1,104.6L118.8,105.4L119.6,106.2L120.3,107.0L121.0,107.8L121.8,108.5L122.6,109.3L123.3,110.0L124.9,111.4L126.5,112.8L128.1,114.2L129.7,115.5L131.4,116.8L133.1,118.0L134.9,119.2L136.7,120.3L138.4,121.4L140.3,122.5L142.1,123.5L144.0,124.5L145.9,125.4L147.8,126.4L149.7,127.2L151.6,128.1L153.6,128.9L155.6,129.7L157.6,130.4L159.6,131.1L161.6,131.8L163.7,132.4L165.7,133.0L167.8,133.6L169.9,134.2L172.0,134.7L174.1,135.2L176.2,135.6L178.3,136.1L180.4,136.5L182.5,136.8L184.7,137.2L186.8,137.5L188.9,137.8L191.1,138.1L193.2,138.4L195.3,138.6L197.5,138.8L199.6,139.0L201.7,139.2L203.9,139.3L206.0,139.5L208.1,139.6L210.3,139.7L212.4,139.8L214.5,139.8L216.7,139.9L218.8,139.9L220.9,140.0L223.1,140.0L225.2,140.0L227.3,140.1L229.5,140.1L231.6,140.1L233.7,140.1L235.9,140.1L238.0,140.1L240.1,140.1L242.3,140.1L244.4,140.0L246.5,140.0L248.7,140.0L250.8,140.0L253.0,140.0L255.1,139.9L257.2,139.9L259.4,139.9L261.5,139.8L263.7,139.8L265.8,139.8L268.0,139.7L270.1,139.7L272.2,139.6L274.4,139.6L276.5,139.5L278.7,139.5L280.8,139.4L283.0,139.4L285.1,139.3L287.3,139.2L289.4,139.2L291.5,139.1L293.7,139.0L295.8,139.0L298.0,138.9L300.1,138.8L302.3,138.8L304.4,138.7L306.5,138.6L308.7,138.5L310.8,138.4L313.0,138.4L315.1,138.3L317.2,138.2L319.4,138.1L321.5,138.0L323.7,138.0L325.8,137.9L327.9,137.8L330.1,137.7L332.2,137.6L334.3,137.5L336.5,137.4L338.6,137.3L340.8,137.3L342.9,137.2L345.0,137.1L347.2,137.0L349.3,136.9L351.4,136.8L353.6,136.7L355.7,136.6L357.9,136.5L360.0,136.5L362.1,136.4L364.3,136.3L366.4,136.2L368.5,136.1L370.7,136.0L372.8,135.9L375.0,135.8L377.1,135.8L379.2,135.7L381.4,135.6L383.5,135.5L385.7,135.4L387.8,135.3L389.9,135.3L392.1,135.2L394.2,135.1L396.4,135.0L398.5,135.0L400.6,134.9L402.8,134.8L404.9,134.7L406.0,134.7"/></g>
</g>
<line x1="44" y1="118.3" x2="50" y2="118.3" stroke="#000" stroke-width="1"/>
<path d="M43,5.6L54,10.4L43,10.4Z" fill="#000"/>
<line x1="130" y1="118.3" x2="138.5" y2="118.3" stroke="#000" stroke-width="1"/>
<line x1="82" y1="118.3" x2="89" y2="118.3" stroke="#000" stroke-width="1"/>
<rect x="399.3" y="245.5" width="2" height="23" fill="#fff"/>
<!-- legend box -->
<rect x="198.8" y="23.2" width="104" height="78.3" fill="#fff"/>
<rect x="225.2" y="21.2" width="74.3" height="3" fill="#fff"/>
<g stroke-width="3.4" fill="none">
<line x1="201.2" y1="31.2" x2="221.7" y2="31.2" stroke="#10b010"/>
<line x1="201.2" y1="50.9" x2="221.7" y2="50.9" stroke="#0000c0"/>
<line x1="201.2" y1="70.8" x2="221.7" y2="70.8" stroke="#b00000"/>
<line x1="201.2" y1="91.2" x2="221.7" y2="91.2" stroke="#ff8000"/>
</g>
<g font-family="Liberation Serif" font-size="19" fill="#000">
<text x="226" y="38.5"><tspan font-style="italic">δ</tspan>/D=0.25</text>
<text x="226" y="58.5"><tspan font-style="italic">δ</tspan>/D=0.5</text>
<text x="226" y="79.1"><tspan font-style="italic">δ</tspan>/D=0.8</text>
<text x="226" y="99"><tspan font-style="italic">δ</tspan>/D=1.5</text>
</g>
<!-- f0 -->
<rect x="1.2" y="0" width="23.4" height="29.4" fill="#fff"/>
<path d="M18.0,6.2C17.6,4.4 15.6,4.3 14.4,6.2C13.0,8.4 12.2,11.5 11.2,15C10,19.5 8.6,23.6 7.2,25.6C5.8,27.8 3.6,28.6 2.2,27.4" fill="none" stroke="#000" stroke-width="2" stroke-linecap="round"/>
<circle cx="18.0" cy="6.5" r="1.35" fill="#000"/><circle cx="2.5" cy="27.1" r="1.3" fill="#000"/>
<line x1="7.3" y1="11.8" x2="15.2" y2="11.8" stroke="#000" stroke-width="1.3"/>
<svg x="1.2" y="0" width="23.4" height="29.4" viewBox="1.2 0 23.4 29.4" overflow="hidden"><text x="15.6" y="35.6" font-family="Liberation Serif" font-size="18.5" fill="#000">0</text></svg>
<!-- (a) -->
<rect x="1" y="241" width="26" height="26.3" fill="#fff"/>
<text x="1.6" y="261.6" font-family="Liberation Serif" font-size="22" fill="#000">(a)</text>
<!-- Omega -->
<rect x="345.7" y="247.8" width="16.5" height="15" fill="#fff"/>
<ellipse cx="354.4" cy="254.7" rx="6" ry="5.9" fill="#000"/>
<rect x="346.9" y="259.6" width="6.2" height="1.9" fill="#000"/><rect x="355.9" y="259.6" width="6" height="1.9" fill="#000"/>
<ellipse cx="354.4" cy="254" rx="3" ry="4.3" fill="#fff"/>
<rect x="353" y="255.5" width="2.9" height="7.3" fill="#fff"/>
</svg>
</body></html>
